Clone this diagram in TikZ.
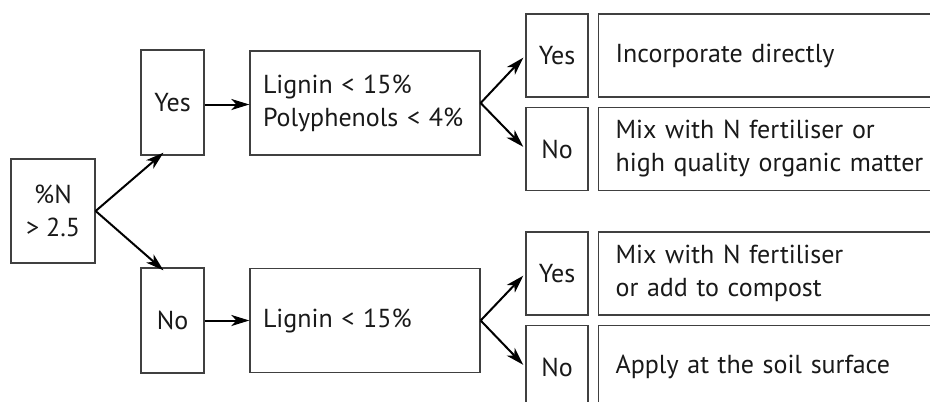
\documentclass[tikz,border=0pt]{standalone}
\usepackage{fontspec}
\setmainfont{PT Sans}
\usetikzlibrary{calc,arrows.meta,positioning}

\begin{document}
\begin{tikzpicture}[x=1pt,y=-1pt,font=\fontsize{26}{33}\selectfont,text=black!90]

\tikzset{qnode/.style={draw=black!75,line width=1.3pt,inner sep=0pt,align=center},
yesno/.style={qnode,minimum width=63pt,minimum height=105pt},
smallnode/.style={qnode,minimum width=62pt,minimum height=83pt},
critnode/.style={qnode,minimum width=230pt,minimum height=104pt,text width=204pt,align=left},
resnode/.style={qnode,anchor=west,minimum width=400pt,minimum height=83pt,text width=366pt,align=left},
flow/.style={-{Stealth[length=18pt,width=11pt,inset=5pt]},line width=2pt,black}}

% Frame
\clip (0,0) rectangle (930,402);

% First question
\node[qnode,minimum width=84pt,minimum height=104pt] (pN) at (53,211) {\%N\\> 2.5};
\node[yesno] (yes1) at (172.5,102.5) {Yes};
\node[yesno] (no1) at (172.5,320.5) {No};

% Lignin criteria
\node[critnode] (lig1) at (365,103) {Lignin < 15\%\\Polyphenols < 4\%};
\node[critnode] (lig2) at (365,320.5) {Lignin < 15\%};

% Second answers
\node[smallnode] (yes2) at (557,55.5) {Yes};
\node[smallnode] (no2) at (557,149) {No};
\node[smallnode] (yes3) at (557,273.5) {Yes};
\node[smallnode] (no3) at (557,367) {No};

% Management options
\node[resnode] (res1) at (598,55.5) {Incorporate directly};
\node[resnode] (res2) at (598,149) {Mix with N fertiliser or\\high quality organic matter};
\node[resnode] (res3) at (598,273.5) {Mix with N fertiliser\\or add to compost};
\node[resnode] (res4) at (598,367) {Apply at the soil surface};

% Arrows
\draw[flow] (pN.east) -- ([xshift=-9pt,yshift=3pt]yes1.south);
\draw[flow] (pN.east) -- ([xshift=-9pt,yshift=-3pt]no1.north);
\draw[flow] ([yshift=-2pt]yes1.east) -- ([yshift=-2pt]yes1.east -| lig1.west);
\draw[flow] (no1.east) -- (no1.east -| lig2.west);
\foreach \a/\b in {lig1/yes2,lig1/no2,lig2/yes3,lig2/no3}
  \draw[flow,shorten >=3pt] (\a.east) -- (\b.west);

\end{tikzpicture}
\end{document}
